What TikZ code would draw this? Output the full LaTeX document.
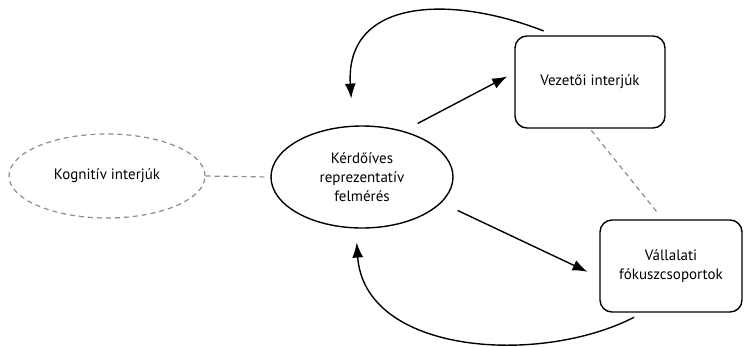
\documentclass[tikz,border=0pt]{standalone}
\usepackage{fontspec}
\setmainfont{PT Sans}
\usetikzlibrary{shapes.geometric,arrows.meta}
\begin{document}
\begin{tikzpicture}[x=1pt,y=-1pt,every path/.style={line width=1.4pt},
	label/.style={align=center,inner sep=0pt,font=\fontsize{15}{19}\selectfont},
	oval/.style={label,ellipse,draw},
	box/.style={label,draw,rounded corners=12pt},
	faint/.style={draw=black!45,dash pattern=on 5pt off 4pt,line width=1.2pt},
	arr/.style={-{Latex[length=15pt,width=11pt]}}]
	\useasboundingbox (0,0) rectangle (744,346);
	\node[oval,faint,minimum width=196pt,minimum height=84pt] (kog) at (107,176) {Kognitív interjúk};
	\node[oval,minimum width=182pt,minimum height=102pt] (kerd) at (362,177) {Kérdőíves\\reprezentatív\\felmérés};
	\node[box,minimum width=150pt,minimum height=92pt] (vez) at (590,82) {Vezetői interjúk};
	\node[box,minimum width=142pt,minimum height=92pt] (vall) at (671,266) {Vállalati\\fókuszcsoportok};
	\draw[faint] (kog.east) -- (kerd.west) [shorten >=6pt];
	\draw[faint,shorten <=2pt,shorten >=7pt] (vez.south) -- (vall.100);
	\draw[arr,shorten <=16pt,shorten >=8pt] (kerd.48) -- (vez.173);
	\draw[arr,shorten <=18pt,shorten >=13pt] (kerd.-18) -- (vall.189);
	\draw[arr,shorten <=12pt,shorten >=27pt] (vez.127) .. controls +(-105,-41) and +(-8,-127) .. (kerd.100);
	\draw[arr,shorten <=10pt,shorten >=14pt] (vall.239) .. controls +(-103,53) and +(9,126) .. (kerd.263);
\end{tikzpicture}
\end{document}
